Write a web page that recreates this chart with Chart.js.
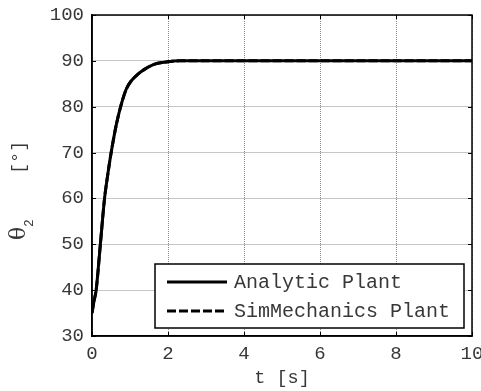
<!DOCTYPE html>
<html>
<head>
<meta charset="utf-8">
<script src="https://cdn.jsdelivr.net/npm/chart.js@4"></script>
<style>
  html, body { margin: 0; padding: 0; background: #fff; }
</style>
</head>
<body>
<canvas id="thetaChart" width="481" height="391"></canvas>
<script>
// time [s] and joint angle theta2 [deg]
const time = [0, 0.05, 0.11, 0.22, 0.33, 0.42, 0.51, 0.64, 0.77, 0.90, 1.03, 1.21, 1.39, 1.65, 2.0, 2.3, 2.6, 3, 4, 5, 6, 7, 8, 9, 10];
const analyticPlant = [35, 37.5, 40, 50, 60, 65.5, 70.3, 76.1, 80.5, 83.8, 85.6, 87.1, 88.2, 89.3, 89.8, 90, 90, 90, 90, 90, 90, 90, 90, 90, 90];
const simMechanicsPlant = [35, 37.5, 40, 50, 60, 65.5, 70.3, 76.1, 80.5, 83.8, 85.6, 87.1, 88.2, 89.3, 89.8, 90, 90, 90, 90, 90, 90, 90, 90, 90, 90];
const seriesNames = ["Analytic Plant", "SimMechanics Plant"];
const xTicks = [0, 2, 4, 6, 8, 10];
const yTicks = [30, 40, 50, 60, 70, 80, 90, 100];
const xLabel = "t [s]";

const mono = "'Liberation Mono', 'DejaVu Sans Mono', monospace";
const textColor = "#383838";

function points(ys) {
  return time.map((t, i) => ({ x: t, y: ys[i] }));
}

// box around the axes plus MATLAB-style inward tick marks
const axesFrame = {
  id: "axesFrame",
  afterDatasetsDraw(chart) {
    const { ctx, chartArea: a, scales } = chart;
    ctx.save();
    ctx.strokeStyle = "#000";
    ctx.lineWidth = 1;
    ctx.beginPath();
    xTicks.forEach(v => {
      const px = Math.round(scales.x.getPixelForValue(v)) + 0.5;
      ctx.moveTo(px, a.bottom); ctx.lineTo(px, a.bottom - 4);
      ctx.moveTo(px, a.top); ctx.lineTo(px, a.top + 4);
    });
    yTicks.forEach(v => {
      const py = Math.round(scales.y.getPixelForValue(v)) + 0.5;
      ctx.moveTo(a.left, py); ctx.lineTo(a.left + 4, py);
      ctx.moveTo(a.right, py); ctx.lineTo(a.right - 4, py);
    });
    ctx.stroke();
    ctx.lineWidth = 1.5;
    ctx.strokeRect(a.left, a.top, a.right - a.left, a.bottom - a.top);
    ctx.restore();
  }
};

// legend box inside the lower right of the axes
const boxLegend = {
  id: "boxLegend",
  afterDraw(chart) {
    const { ctx, chartArea: a } = chart;
    const w = 309, h = 64;
    const x0 = a.right - 8 - w;
    const y0 = a.bottom - 8 - h;
    ctx.save();
    ctx.fillStyle = "#fff";
    ctx.fillRect(x0, y0, w, h);
    ctx.strokeStyle = "#000";
    ctx.lineWidth = 1.5;
    ctx.strokeRect(x0, y0, w, h);
    chart.data.datasets.forEach((ds, i) => {
      const y = y0 + 18 + i * 29;
      ctx.setLineDash(ds.borderDash || []);
      ctx.lineWidth = 3;
      ctx.beginPath();
      ctx.moveTo(x0 + 12, y);
      ctx.lineTo(x0 + 72, y);
      ctx.stroke();
      ctx.setLineDash([]);
      ctx.fillStyle = textColor;
      ctx.font = "20px " + mono;
      ctx.textBaseline = "middle";
      ctx.textAlign = "left";
      ctx.fillText(ds.label, x0 + 79, y + 1);
    });
    ctx.restore();
  }
};

// y axis label with a subscript: theta_2 [deg]
const yTitle = {
  id: "yTitle",
  afterDraw(chart) {
    const { ctx } = chart;
    ctx.save();
    ctx.translate(20, 240);
    ctx.rotate(-Math.PI / 2);
    ctx.fillStyle = textColor;
    ctx.textAlign = "left";
    ctx.textBaseline = "middle";
    ctx.font = "22px 'DejaVu Serif', serif";
    ctx.fillText("θ", 0, -1);
    ctx.font = "13px " + mono;
    ctx.fillText("2", 13, 10);
    ctx.font = "18.5px " + mono;
    ctx.fillText("[°]", 66, -1);
    ctx.restore();
  }
};

new Chart(document.getElementById("thetaChart"), {
  type: "line",
  data: {
    datasets: [
      {
        label: seriesNames[0],
        data: points(analyticPlant),
        borderColor: "#000",
        borderWidth: 3,
        pointRadius: 0,
        tension: 0.3,
        fill: false
      },
      {
        label: seriesNames[1],
        data: points(simMechanicsPlant),
        borderColor: "#000",
        borderWidth: 3,
        borderDash: [9, 3],
        pointRadius: 0,
        tension: 0.3,
        fill: false
      }
    ]
  },
  options: {
    responsive: false,
    animation: false,
    devicePixelRatio: 1,
    layout: { padding: { top: 15, right: 9, left: 0, bottom: 0 } },
    plugins: {
      legend: { display: false },
      tooltip: { enabled: false }
    },
    scales: {
      x: {
        type: "linear",
        min: xTicks[0],
        max: xTicks[xTicks.length - 1],
        afterBuildTicks(s) { s.ticks = xTicks.map(v => ({ value: v })); },
        ticks: { color: textColor, font: { family: mono, size: 19 }, padding: 7, maxRotation: 0, autoSkip: false },
        grid: { color: "#8c8c8c", drawTicks: false },
        border: { color: "#000", width: 1.5, dash: [1, 1] },
        title: { display: true, text: xLabel, color: textColor, font: { family: mono, size: 18.5 }, padding: { top: 0, bottom: 2 } },
        afterFit(s) { s.height = 55; s.paddingLeft = 0; s.paddingRight = 0; }
      },
      y: {
        min: yTicks[0],
        max: yTicks[yTicks.length - 1],
        afterBuildTicks(s) { s.ticks = yTicks.map(v => ({ value: v })); },
        ticks: { color: textColor, font: { family: mono, size: 19 }, padding: 8, autoSkip: false },
        grid: { color: "#8c8c8c", drawTicks: false },
        border: { color: "#000", width: 1.5, dash: [1, 1] },
        afterFit(s) { s.width = 92; s.paddingTop = 0; s.paddingBottom = 0; }
      }
    }
  },
  plugins: [axesFrame, boxLegend, yTitle]
});
</script>
</body>
</html>
